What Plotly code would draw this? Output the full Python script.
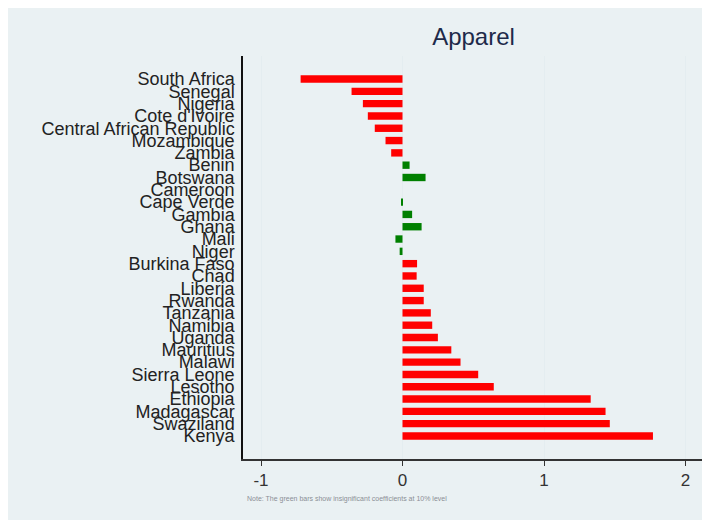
import plotly.graph_objects as go

countries = ["South Africa", "Senegal", "Nigeria", "Cote d'Ivoire", "Central African Republic",
             "Mozambique", "Zambia", "Benin", "Botswana", "Cameroon", "Cape Verde", "Gambia",
             "Ghana", "Mali", "Niger", "Burkina Faso", "Chad", "Liberia", "Rwanda", "Tanzania",
             "Namibia", "Uganda", "Mauritius", "Malawi", "Sierra Leone", "Lesotho", "Ethiopia",
             "Madagascar", "Swaziland", "Kenya"]
coefficients = [-0.72, -0.36, -0.28, -0.245, -0.196, -0.12, -0.08, 0.05, 0.163, 0.0, -0.01, 0.068,
                0.135, -0.05, -0.02, 0.103, 0.10, 0.15, 0.15, 0.20, 0.21, 0.25, 0.345, 0.41,
                0.535, 0.645, 1.33, 1.435, 1.465, 1.77]
significant = [True, True, True, True, True, True, True, False, False, False, False, False,
               False, False, False, True, True, True, True, True, True, True, True, True,
               True, True, True, True, True, True]
x_ticks = [-1, 0, 1, 2]

RED = "#ff0000"
GREEN = "#008000"
colors = [RED if s else GREEN for s in significant]

# page is offset by the 8px body margin; work in figure coordinates
OFF = 8
W, H = 710 - OFF, 523 - OFF
PL, PR, PT, PB = 243 - OFF, 704 - OFF, 56 - OFF, 459 - OFF
PW, PH = PR - PL, PB - PT

fig = go.Figure()
fig.add_trace(go.Bar(
    x=coefficients, y=countries, orientation="h",
    marker=dict(color=colors, line=dict(width=0)),
    width=0.6, showlegend=False,
))

order_bottom_up = list(reversed(countries))

fig.update_layout(
    width=W, height=H,
    margin=dict(l=PL, r=W - PR, t=PT, b=H - PB, pad=0),
    paper_bgcolor="white",
    plot_bgcolor="white",
    font=dict(family="Liberation Sans, Arial, sans-serif", color="#222222"),
    title=dict(text="Apparel", x=0.5, xref="paper", xanchor="center",
               y=1 - (37 - OFF) / H, yref="container", yanchor="middle",
               font=dict(size=24, color="#1e2a4a")),
    shapes=[dict(type="rect", xref="paper", yref="paper",
                 x0=(8 - OFF - PL) / PW, x1=(705 - OFF - PL) / PW,
                 y0=(PB - (520 - OFF)) / PH, y1=(PB - (5 - OFF)) / PH,
                 fillcolor="#eaf1f3", line=dict(width=0), layer="below")],
    annotations=[dict(text="Note: The green bars show insignificant coefficients at 10% level",
                      xref="paper", yref="paper", x=(245 - OFF - PL) / PW,
                      y=(PB - (499 - OFF)) / PH,
                      xanchor="left", yanchor="middle", showarrow=False,
                      font=dict(size=7, color="#8a8f96"))],
)

fig.update_xaxes(
    range=[(243 - 402.5) / 141.5, (704 - 402.5) / 141.5],
    tickvals=x_ticks, ticktext=[str(v) for v in x_ticks],
    ticks="outside", ticklen=5, tickwidth=1.2, tickcolor="#333333",
    tickfont=dict(size=17, color="#333333"),
    showgrid=True, gridcolor="#e4edf0", gridwidth=1,
    zeroline=False,
    showline=True, linecolor="#333333", linewidth=1.5,
)
fig.update_yaxes(
    type="category", categoryorder="array", categoryarray=order_bottom_up,
    tickmode="array", tickvals=countries, ticktext=countries,
    range=[-1.87, 30.87],
    ticks="", ticklen=0, ticklabelstandoff=3,
    tickfont=dict(size=18, color="#222222"),
    showgrid=False, zeroline=False,
    showline=True, linecolor="#111111", linewidth=1.5,
)

fig.write_html("out.html")
